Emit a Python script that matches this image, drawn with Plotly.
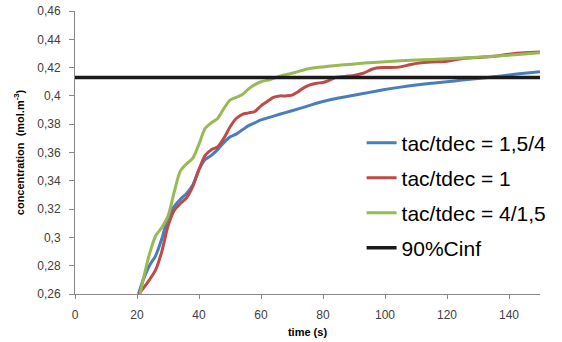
import plotly.graph_objects as go

# Data
t_blue = [20.5, 22, 24, 26, 28, 30, 32, 34, 36, 38, 40, 42, 44, 46, 48, 50, 52, 54, 56, 58,
          60, 63, 66, 70, 75, 80, 85, 90, 95, 100, 105, 110, 115, 120, 125, 130, 135, 140, 145, 150]
c_blue = [0.26, 0.27, 0.28, 0.287, 0.299, 0.314, 0.322, 0.327, 0.331, 0.337, 0.348, 0.355, 0.358, 0.362, 0.367, 0.371, 0.373, 0.376, 0.379, 0.381,
          0.383, 0.385, 0.387, 0.3895, 0.3928, 0.396, 0.3985, 0.4005, 0.4025, 0.4045, 0.4062, 0.4077, 0.409, 0.41, 0.4112, 0.4123, 0.4135, 0.4148, 0.416, 0.417]

t_red = [20.5, 22, 24, 26, 28, 30, 32, 34, 36, 38, 40, 42, 44, 46, 48, 50, 52, 54, 56, 58,
         60, 62, 64, 66, 68, 70, 72, 74, 76, 78, 80, 82, 84, 86, 88, 90, 93, 96, 99, 102,
         105, 108, 111, 115, 120, 125, 130, 135, 140, 145, 150]
c_red = [0.26, 0.264, 0.27, 0.277, 0.29, 0.308, 0.319, 0.324, 0.328, 0.336, 0.348, 0.358, 0.362, 0.364, 0.37, 0.378, 0.384, 0.387, 0.388, 0.389,
         0.393, 0.396, 0.399, 0.4, 0.4, 0.4005, 0.403, 0.406, 0.408, 0.409, 0.4095, 0.411, 0.413, 0.4135, 0.414, 0.4145, 0.416, 0.419, 0.42, 0.42,
         0.4205, 0.422, 0.4232, 0.424, 0.4245, 0.4265, 0.4272, 0.428, 0.4295, 0.4305, 0.431]

t_green = [21, 22.5, 24, 26, 28, 30, 32, 34, 36, 38, 40, 42, 44, 46, 48, 50, 52, 54, 56, 58,
           60, 63, 66, 70, 75, 80, 87, 95, 105, 115, 125, 135, 143, 150]
c_green = [0.26, 0.275, 0.288, 0.301, 0.307, 0.315, 0.332, 0.347, 0.352, 0.356, 0.366, 0.377, 0.381, 0.384, 0.391, 0.397, 0.399, 0.401, 0.405, 0.408,
           0.41, 0.4115, 0.414, 0.416, 0.419, 0.4205, 0.422, 0.4235, 0.4248, 0.4258, 0.4268, 0.428, 0.4292, 0.4305]

t_cinf = [0, 150]
c_cinf = [0.413, 0.413]

names = ["tac/tdec = 1,5/4", "tac/tdec = 1", "tac/tdec = 4/1,5", "90%Cinf"]
colors = ["#4A7EBB", "#BE4B48", "#98B954", "#1A1A1A"]

fig = go.Figure()
series = [(t_blue, c_blue), (t_red, c_red), (t_green, c_green), (t_cinf, c_cinf)]
legends = ["legend", "legend2", "legend3", "legend4"]
for i, ((tx, cy), nm, col, lg) in enumerate(zip(series, names, colors, legends)):
    fig.add_trace(go.Scatter(
        x=tx, y=cy, mode="lines", name=nm,
        line=dict(color=col, width=3.5 if i == 3 else 3, shape="linear" if i == 3 else "spline", smoothing=0.8),
        legend=lg, cliponaxis=True,
    ))

leg_font = dict(family="Liberation Sans, Arial, sans-serif", size=21, color="#000000")
leg_common = dict(font=leg_font, bgcolor="rgba(0,0,0,0)", xanchor="left", yanchor="middle",
                  x=0.615, itemwidth=30, tracegroupgap=0)
ys = [143, 178, 213, 248]
plot_top, plot_bot = 11, 294
layout_leg = {}
for lg, yp in zip(legends, ys):
    layout_leg[lg] = dict(leg_common, y=(plot_bot - yp) / (plot_bot - plot_top))

fig.update_layout(
    width=562, height=342,
    margin=dict(l=75, r=21, t=11, b=48),
    paper_bgcolor="white", plot_bgcolor="white",
    separators=", ",
    showlegend=True,
    font=dict(family="Liberation Sans, Arial, sans-serif", size=12, color="#404040"),
    xaxis=dict(range=[0, 150], tick0=0, dtick=20, showgrid=False, zeroline=False, automargin=False,
               showline=True, linecolor="#888888", linewidth=1,
               ticks="outside", ticklen=4, tickcolor="#888888", ticklabelstandoff=6,
               tickfont=dict(size=12, color="#404040"),
               title=dict(text="<b>time (s)</b>", font=dict(size=11, color="#000000"), standoff=6)),
    yaxis=dict(range=[0.26, 0.46], tick0=0.26, dtick=0.02, showgrid=False, zeroline=False, automargin=False,
               showline=True, linecolor="#888888", linewidth=1,
               ticks="outside", ticklen=5, tickcolor="#888888", ticklabelstandoff=6,
               tickfont=dict(size=12, color="#404040"),
               title=dict(text="<b>concentration  (mol.m<sup>-3</sup>)</b>", font=dict(size=11, color="#000000"), standoff=10)),
    **layout_leg,
)

fig.write_html("out.html")
